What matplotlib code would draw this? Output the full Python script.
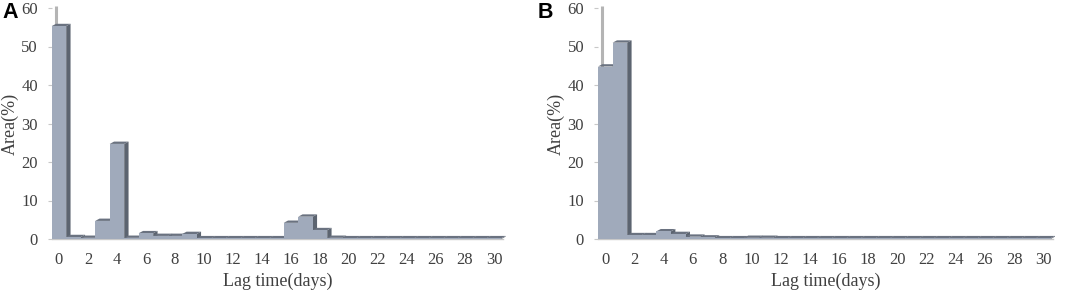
import matplotlib
matplotlib.use("Agg")
import matplotlib.pyplot as plt
from matplotlib.patches import Polygon
import numpy as np

days = list(range(31))
area_a = [55.3, 0.5, 0.3, 4.7, 24.7, 0.3, 1.5, 0.8, 0.8, 1.3,
          0.2, 0.2, 0.2, 0.2, 0.2, 0.2, 4.2, 5.8, 2.3, 0.3,
          0.2, 0.2, 0.2, 0.2, 0.2, 0.2, 0.2, 0.2, 0.2, 0.2, 0.2]
area_b = [44.8, 51.0, 1.0, 1.0, 2.0, 1.3, 0.6, 0.4, 0.2, 0.2,
          0.3, 0.3, 0.2, 0.2, 0.2, 0.2, 0.2, 0.2, 0.2, 0.2,
          0.2, 0.2, 0.2, 0.2, 0.2, 0.2, 0.2, 0.2, 0.2, 0.2, 0.2]
xticks = list(range(0, 31, 2))
yticks = [0, 10, 20, 30, 40, 50, 60]

FRONT = '#a0aabb'
SIDE = '#5c6470'
TOP = '#6a7280'
WALL = '#b4b4b4'
TEXT = '#404040'
DX, DY = 0.3, 0.6

fig = plt.figure(figsize=(10.72, 2.91), dpi=100)

def panel(rect, values, letter, letter_x):
    ax = fig.add_axes(rect)
    ax.set_xlim(-0.5, 30.65)
    ax.set_ylim(0, 60)
    # back wall edge
    ax.plot([-0.5 + DX, -0.5 + DX], [DY, 60 + DY], color=WALL, lw=2.2,
            zorder=1, clip_on=False, solid_capstyle='butt')
    for x, v in zip(days, values):
        l, r = x - 0.5, x + 0.5
        side = Polygon([(r, 0), (r + DX, DY), (r + DX, v + DY), (r, v)],
                       closed=True, facecolor=SIDE, edgecolor='none',
                       zorder=2, clip_on=False)
        top = Polygon([(l, v), (l + DX, v + DY), (r + DX, v + DY), (r, v)],
                      closed=True, facecolor=TOP, edgecolor='none',
                      zorder=2, clip_on=False)
        ax.add_patch(side)
        ax.add_patch(top)
        ax.bar([x], [v], width=1.0, color=FRONT, edgecolor='none',
               zorder=2, clip_on=False)
    for s in ['top', 'right', 'left']:
        ax.spines[s].set_visible(False)
    ax.spines['bottom'].set_color('#c8c8c8')
    ax.spines['bottom'].set_linewidth(1.0)
    ax.spines['bottom'].set_zorder(1)
    ax.set_xticks(xticks)
    ax.set_yticks(yticks)
    ax.tick_params(axis='x', length=0, pad=9, labelsize=12, labelcolor=TEXT)
    ax.tick_params(axis='y', length=3, width=0.8, color='#c8c8c8', pad=7,
                   labelsize=12, labelcolor=TEXT)
    for lab in ax.get_xticklabels() + ax.get_yticklabels():
        lab.set_family('Liberation Serif')
    ax.set_xlabel('Lag time(days)', family='Liberation Serif', fontsize=13,
                  color=TEXT, labelpad=4)
    ax.set_ylabel('Area(%)', family='Liberation Serif', fontsize=13,
                  color=TEXT, labelpad=2)
    fig.text(letter_x, 1 - 18 / 291, letter, family='Liberation Sans',
             fontweight='bold', fontsize=15.5, color='black')
    return ax

axA = panel([51.7 / 1072, 52 / 291, 451.7 / 1072, 231 / 291], area_a, 'A', 2 / 1072)
axB = panel([598 / 1072, 52 / 291, 454.8 / 1072, 231 / 291], area_b, 'B', 538 / 1072)

fig.savefig('out.png', dpi=100)
